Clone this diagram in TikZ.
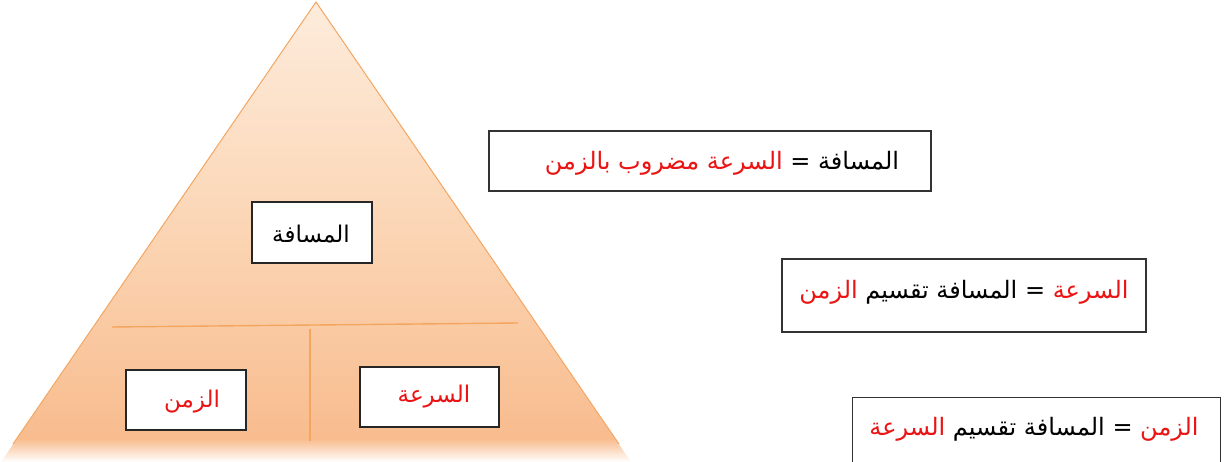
\documentclass[tikz,border=0pt]{standalone}
\usepackage{fontspec}
\newfontfamily\arabicfont[Script=Arabic]{DejaVu Sans}
\TeXXeTstate=1
\definecolor{peachA}{RGB}{253,236,220}
\definecolor{peachB}{RGB}{251,213,180}
\definecolor{peachC}{RGB}{248,188,142}
\definecolor{edgeor}{RGB}{244,165,96}
\definecolor{arred}{RGB}{235,20,20}
\pgfdeclareverticalshading{trishade}{100bp}{color(0bp)=(white); color(25bp)=(white); color(27.5bp)=(peachC); color(50bp)=(peachB); color(75bp)=(peachA); color(100bp)=(peachA)}
\tikzset{
  tribox/.style={draw=black!85, line width=1.6pt, fill=white, inner sep=0pt},
  eqbox/.style={draw=black!80, line width=1.3pt, fill=white, inner sep=0pt},
  artext/.style={font=\arabicfont\fontsize{24}{28}\selectfont, inner sep=0pt},
  lbltext/.style={font=\arabicfont\fontsize{23}{27}\selectfont, inner sep=0pt},
  divline/.style={draw=edgeor, line width=1.4pt}
}
\begin{document}
\begin{tikzpicture}[x=1pt,y=-1pt]
\useasboundingbox (0,0) rectangle (1229,462);
\clip (0,0) rectangle (1229,462);
% triangle
\coordinate (apex) at (316,2);
\coordinate (bl) at (1,462);
\coordinate (br) at (631,462);
\shade[shading=trishade] (apex) -- (br) -- (bl) -- cycle;
\coordinate (le) at (13,444);
\coordinate (re) at (619,444);
\draw[edgeor, line width=1pt] (le) -- (apex) -- (re);
% dividers
\coordinate (h1) at (112,327);
\coordinate (h2) at (518,323);
\coordinate (v1) at (310,329);
\coordinate (v2) at (310,441);
\draw[divline] (h1) -- (h2);
\draw[divline, line width=1.1pt] (v1) -- (v2);
% triangle boxes
\node[tribox, minimum width=120, minimum height=61] (dist) at (312,232.5) {};
\node[lbltext] (distt) at (311,234) {\beginR المسافة\endR};
\node[tribox, minimum width=120, minimum height=60] (time) at (186,400) {};
\node[lbltext, text=arred] (timet) at (192,402) {\beginR الزمن\endR};
\node[tribox, minimum width=139, minimum height=60] (speed) at (429.5,397) {};
\node[lbltext, text=arred] (speedt) at (434,397) {\beginR السرعة\endR};
% equation boxes
\node[eqbox, minimum width=442, minimum height=60] (eq1) at (710,161) {};
\node[artext] (eq1t) at (722,163) {{\color{arred}\beginR السرعة مضروب بالزمن\endR} = \beginR المسافة\endR};
\node[eqbox, minimum width=364, minimum height=73] (eq2) at (964,295.5) {};
\node[artext] (eq2t) at (964,292) {{\color{arred}\beginR الزمن\endR} \beginR المسافة تقسيم\endR{} = {\color{arred}\beginR السرعة\endR}};
\node[eqbox, minimum width=368, minimum height=90, anchor=north west] (eq3) at (852,397) {};
\node[artext] (eq3t) at (1034,429) {{\color{arred}\beginR السرعة\endR} \beginR المسافة تقسيم\endR{} = {\color{arred}\beginR الزمن\endR}};
\end{tikzpicture}
\end{document}
